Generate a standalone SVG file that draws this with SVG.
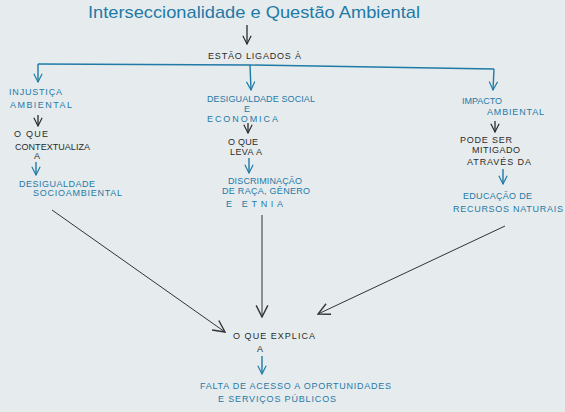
<svg xmlns="http://www.w3.org/2000/svg" width="565" height="412" viewBox="0 0 565 412">
<defs>
<marker id="ahk" viewBox="0 0 12 12" refX="11" refY="6" markerWidth="10" markerHeight="10" markerUnits="userSpaceOnUse" orient="auto">
<polyline points="1,1 11,6 1,11" fill="none" stroke="#2b2b2b" stroke-width="1.4"/>
</marker>
<marker id="aht" viewBox="0 0 12 12" refX="11" refY="6" markerWidth="10" markerHeight="10" markerUnits="userSpaceOnUse" orient="auto">
<polyline points="1,1 11,6 1,11" fill="none" stroke="#1f7aa6" stroke-width="1.4"/>
</marker>
<marker id="ahb" viewBox="0 0 12 12" refX="11" refY="6" markerWidth="14" markerHeight="14" markerUnits="userSpaceOnUse" orient="auto">
<polyline points="1,1 11,6 1,11" fill="none" stroke="#333" stroke-width="1.2"/>
</marker>
</defs>
<style>
text{font-family:"Liberation Sans",Arial,sans-serif;font-size:9px;}
.t{fill:#1f7aa6;}
.k{fill:#2b2b2b;}
.title{font-size:17px;fill:#1f7aa6;}
.lk{stroke:#2b2b2b;stroke-width:1.3;fill:none;}
.lt{stroke:#1f7aa6;stroke-width:1.4;fill:none;}
.ld{stroke:#333;stroke-width:1;fill:none;}
</style>
<rect width="565" height="412" fill="#e6ebee"/>

<g id="title"><text class="title" x="88" y="18" textLength="332" lengthAdjust="spacingAndGlyphs">Interseccionalidade e Questão Ambiental</text></g>
<g id="ligados"><text class="k" x="208" y="59" textLength="93">ESTÃO LIGADOS À</text></g>

<g id="injustica">
<text class="t" x="9" y="95" textLength="53">INJUSTIÇA</text>
<text class="t" x="10" y="108" textLength="62">AMBIENTAL</text>
</g>
<g id="contextualiza">
<text class="k" x="14" y="137" textLength="34">O QUE</text>
<text class="k" x="15" y="150" textLength="75">CONTEXTUALIZA</text>
<text class="k" x="34" y="159">A</text>
</g>
<g id="desig-socioamb">
<text class="t" x="19" y="187" textLength="76">DESIGUALDADE</text>
<text class="t" x="33" y="196" textLength="89">SOCIOAMBIENTAL</text>
</g>

<g id="desigualdade">
<text class="t" x="207" y="102" textLength="108">DESIGUALDADE SOCIAL</text>
<text class="t" x="244" y="112">E</text>
<text class="t" x="207" y="122" textLength="71">ECONOMICA</text>
</g>
<g id="leva">
<text class="k" x="228" y="145" textLength="30">O QUE</text>
<text class="k" x="230" y="155" textLength="32">LEVA A</text>
</g>
<g id="discriminacao">
<text class="t" x="228" y="184" textLength="74">DISCRIMINAÇÃO</text>
<text class="t" x="222" y="194" textLength="88">DE RAÇA, GÊNERO</text>
<text class="t" x="226" y="207" textLength="57">E ETNIA</text>
</g>

<g id="impacto">
<text class="t" x="462" y="104" textLength="40">IMPACTO</text>
<text class="t" x="487" y="115" textLength="57">AMBIENTAL</text>
</g>
<g id="mitigado">
<text class="k" x="460" y="143" textLength="52">PODE SER</text>
<text class="k" x="472" y="153" textLength="48">MITIGADO</text>
<text class="k" x="467" y="165" textLength="64">ATRAVÉS DA</text>
</g>
<g id="educacao">
<text class="t" x="463" y="199" textLength="69">EDUCAÇÃO DE</text>
<text class="t" x="453" y="212" textLength="110">RECURSOS NATURAIS</text>
</g>

<g id="explica">
<text class="k" x="233" y="339" textLength="82">O QUE EXPLICA</text>
<text class="k" x="257" y="352">A</text>
</g>
<g id="falta">
<text class="t" x="200" y="389" textLength="191">FALTA DE ACESSO A OPORTUNIDADES</text>
<text class="t" x="218" y="402" textLength="118">E SERVIÇOS PÚBLICOS</text>
</g>

<g id="connectors">
<line class="lk" x1="247" y1="25" x2="247" y2="44" marker-end="url(#ahk)"/>
<polyline class="lt" points="38,64 250,65 494,69"/>
<line class="lt" x1="38" y1="64" x2="38" y2="82" marker-end="url(#aht)"/>
<line class="lt" x1="250" y1="65" x2="251" y2="90" marker-end="url(#aht)"/>
<line class="lt" x1="494" y1="69" x2="493" y2="90" marker-end="url(#aht)"/>
<line class="lk" x1="38" y1="115" x2="38" y2="126" marker-end="url(#ahk)"/>
<line class="lt" x1="36" y1="162" x2="36" y2="175" marker-end="url(#aht)"/>
<line class="lk" x1="248" y1="123" x2="248" y2="133" marker-end="url(#ahk)"/>
<line class="lt" x1="249" y1="158" x2="249" y2="173" marker-end="url(#aht)"/>
<line class="lk" x1="495" y1="121" x2="495" y2="132" marker-end="url(#ahk)"/>
<line class="lt" x1="503" y1="169" x2="503" y2="184" marker-end="url(#aht)"/>
<line class="lt" x1="262" y1="356" x2="262" y2="374" marker-end="url(#aht)"/>
<line class="ld" x1="52" y1="210" x2="225" y2="332" marker-end="url(#ahb)"/>
<line class="ld" x1="262" y1="215" x2="262" y2="317" marker-end="url(#ahb)"/>
<line class="ld" x1="505" y1="226" x2="318" y2="314" marker-end="url(#ahb)"/>
</g>
</svg>
